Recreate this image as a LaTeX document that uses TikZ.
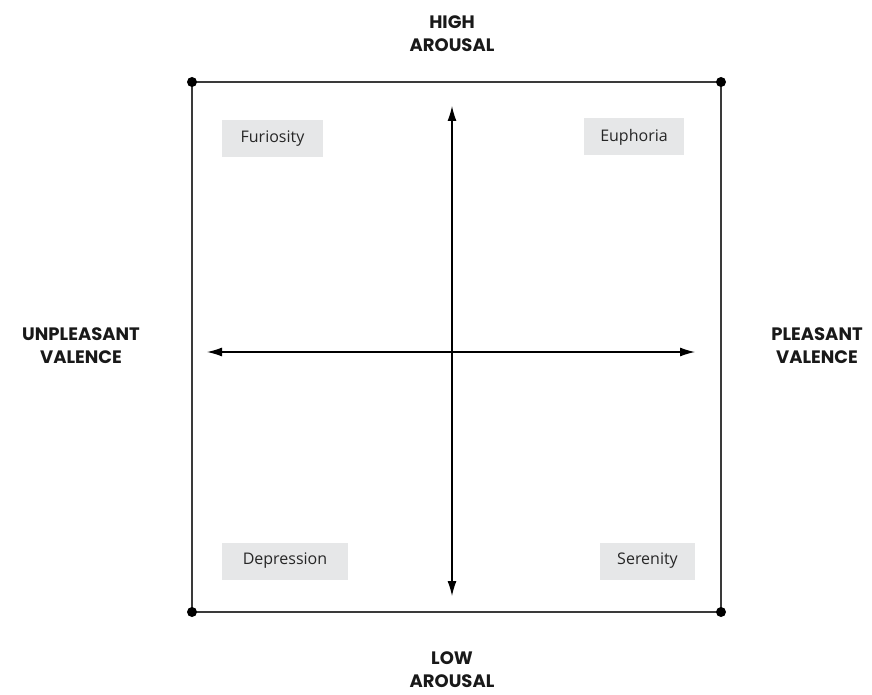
\documentclass[tikz,border=0pt]{standalone}
\usepackage{fontspec}
\setmainfont{Open Sans}
\newfontfamily\headfont{Poppins}
\usetikzlibrary{arrows.meta}
\definecolor{boxgray}{HTML}{E6E7E8}
\definecolor{linegray}{HTML}{3A3A3A}
\begin{document}
\begin{tikzpicture}[x=1pt,y=-1pt,
  frame/.style={draw=linegray,line width=1.4pt},
  axis/.style={draw=black,line width=1.2pt,{Latex[length=15pt,width=9pt]}-{Latex[length=15pt,width=9pt]}},
  dot/.style={circle,fill=black,inner sep=0pt,minimum size=10pt},
  emo/.style={fill=boxgray,font=\fontsize{16}{18}\selectfont,text=black!85,anchor=center,minimum height=37pt},
  head/.style={font=\headfont\bfseries\fontsize{18}{23}\selectfont,align=center,text=black!90}]
\useasboundingbox (0,0) rectangle (872,695);
\coordinate (tl) at (192,82);
\coordinate (tr) at (721,82);
\coordinate (bl) at (192,612);
\coordinate (br) at (721,612);
\draw[frame] (tl) -- (tr) -- (br) -- (bl) -- cycle;
\node[dot] (dtl) at (tl) {};
\node[dot] (dtr) at (tr) {};
\node[dot] (dbl) at (bl) {};
\node[dot] (dbr) at (br) {};
\coordinate (vt) at (452,106);
\coordinate (vb) at (452,596);
\coordinate (hl) at (207,352);
\coordinate (hr) at (695,352);
\draw[axis] (vt) -- (vb);
\draw[axis] (hl) -- (hr);
\node[emo,minimum width=101pt] (fur) at (272.5,138.5) {Furiosity};
\node[emo,minimum width=100pt] (eup) at (634,137) {Euphoria};
\node[emo,minimum width=126pt] (dep) at (285,561) {Depression};
\node[emo,minimum width=95pt] (ser) at (647.5,561) {Serenity};
\node[head] (high) at (452,34) {HIGH\\AROUSAL};
\node[head] (low) at (452,669.5) {LOW\\AROUSAL};
\node[head] (unp) at (81,346) {UNPLEASANT\\VALENCE};
\node[head] (ple) at (817,346) {PLEASANT\\VALENCE};
\end{tikzpicture}
\end{document}
